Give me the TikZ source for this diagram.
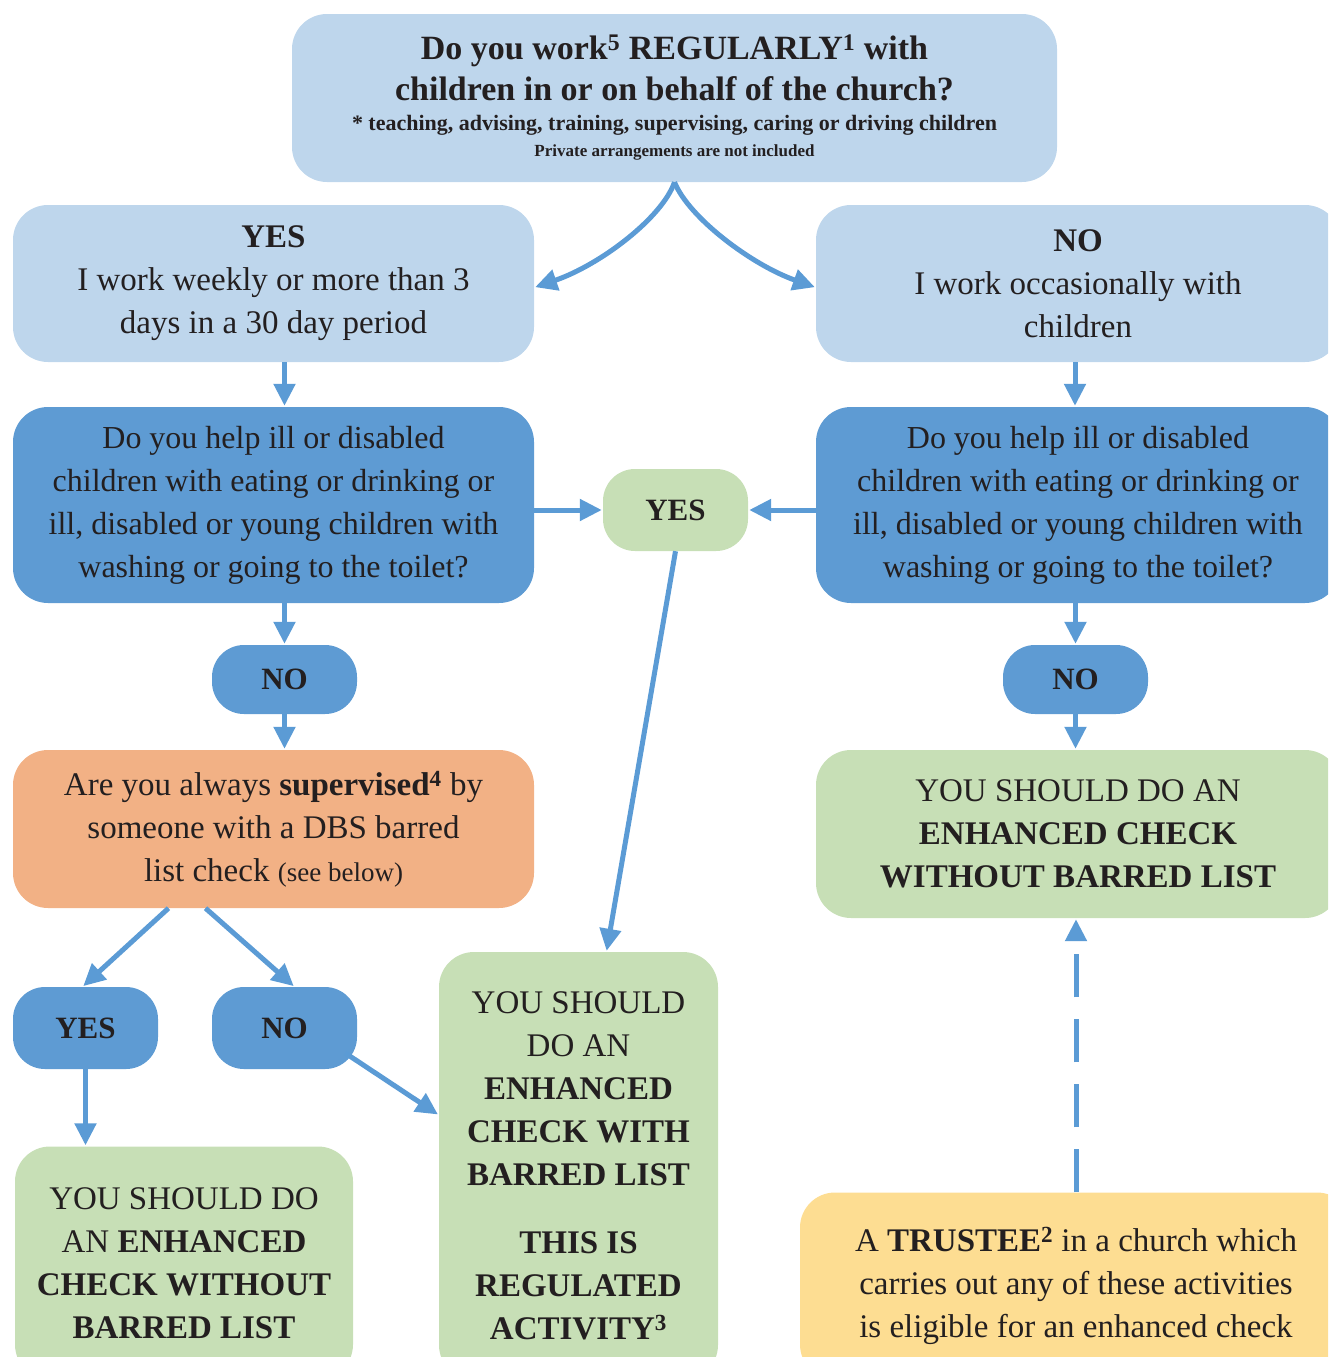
\documentclass[tikz,border=0pt]{standalone}
\usepackage{fontspec}
\setmainfont{Liberation Serif}
\usetikzlibrary{arrows.meta,calc}
\definecolor{paleblue}{HTML}{BED6EC}
\definecolor{midblue}{HTML}{5E9BD3}
\definecolor{linkblue}{HTML}{5B9BD5}
\definecolor{sage}{HTML}{C7DFB6}
\definecolor{peach}{HTML}{F2B185}
\definecolor{butter}{HTML}{FDDD92}
\definecolor{ink}{HTML}{231F20}
\begin{document}
\begin{tikzpicture}[x=1pt,y=-1pt,
  box/.style={rounded corners=35, inner sep=0pt, align=center, text=ink,
    font=\fontsize{33}{43}\selectfont},
  lbox/.style={box, fill=paleblue},
  qbox/.style={box, fill=midblue, font=\fontsize{32}{43}\selectfont},
  endbox/.style={box, fill=sage},
  pill/.style={box, rounded corners=32, minimum width=145, font=\fontsize{31}{40}\selectfont\bfseries},
  link/.style={draw=linkblue, line width=5, -{Triangle[length=22,width=21]}, shorten >=1}]
\useasboundingbox (0,0) rectangle (1328,1357);
\clip (0,0) rectangle (1328,1357);

%% boxes
\node[lbox, minimum width=765, minimum height=168] (top) at (674.5,98)
  {{\fontsize{34}{42}\selectfont\bfseries Do you work\textsuperscript{5} REGULARLY\textsuperscript{1} with}\\[-2pt]
   {\fontsize{34}{42}\selectfont\bfseries children in or on behalf of the church?}\\[-13pt]
   {\fontsize{22}{30}\selectfont\bfseries * teaching, advising, training, supervising, caring or driving children}\\[-17pt]
   {\fontsize{17}{24}\selectfont\bfseries Private arrangements are not included}};
\node[lbox, minimum width=521, minimum height=157] (yesA) at (273.5,283.5)
  {\textbf{YES}\\ I work weekly or more than 3\\ days in a 30 day period};
\node[lbox, minimum width=524, minimum height=157] (noA) at (1078,283.5)
  {\textbf{NO}\\ I work occasionally with\\ children};
\node[qbox, minimum width=521, minimum height=196] (qL) at (273.5,505)
  {Do you help ill or disabled\\ children with eating or drinking or\\ ill, disabled or young children with\\ washing or going to the toilet?};
\node[qbox, minimum width=524, minimum height=196] (qR) at (1078,505)
  {Do you help ill or disabled\\ children with eating or drinking or\\ ill, disabled or young children with\\ washing or going to the toilet?};
\node[pill, fill=sage, minimum height=82] (yesM) at (675.5,510) {YES};
\node[pill, fill=midblue, minimum height=69] (noL) at (284.5,679.5) {NO};
\node[pill, fill=midblue, minimum height=69] (noR) at (1075.5,679.5) {NO};
\node[box, fill=peach, minimum width=521, minimum height=158] (sup) at (273.5,829)
  {Are you always \textbf{supervised}\textsuperscript{\bfseries 4} by\\ someone with a DBS barred\\ list check {\fontsize{27}{43}\selectfont(see below)}};
\node[pill, fill=midblue, minimum height=82] (yesS) at (85.5,1028) {YES};
\node[pill, fill=midblue, minimum height=82] (noS) at (284.5,1028) {NO};
\node[endbox, minimum width=338, minimum height=233] (chkL) at (184,1263)
  {YOU SHOULD DO\\ AN \textbf{ENHANCED}\\ \textbf{CHECK WITHOUT}\\ \textbf{BARRED LIST}};
\node[endbox, minimum width=279, minimum height=428] (chkM) at (578.5,1166)
  {YOU SHOULD\\ DO AN\\ \textbf{ENHANCED}\\ \textbf{CHECK WITH}\\ \textbf{BARRED LIST}\\[25pt]
   \textbf{THIS IS}\\ \textbf{REGULATED}\\ \textbf{ACTIVITY}\textsuperscript{\bfseries 3}};
\node[endbox, minimum width=524, minimum height=168] (chkR) at (1078,834)
  {YOU SHOULD DO AN\\ \textbf{ENHANCED CHECK}\\ \textbf{WITHOUT BARRED LIST}};
\node[box, fill=butter, minimum width=552, minimum height=187] (trustee) at (1076,1286)
  {A \textbf{TRUSTEE}\textsuperscript{\bfseries 2} in a church which\\ carries out any of these activities\\ is eligible for an enhanced check};

%% connectors
\draw[link] (top.south) .. controls (662,218) and (600,265) .. ($(yesA.east)+(0,4)$);
\draw[link] (top.south) .. controls (689,218) and (752,265) .. ($(noA.west)+(0,4)$);
\draw[link] ($(yesA.south)+(11,0)$) -- ($(qL.north)+(11,0)$);
\draw[link] ($(noA.south)+(-3,0)$) -- ($(qR.north)+(-3,0)$);
\draw[link] (qL.east |- yesM) -- (yesM.west);
\draw[link] (qR.west |- yesM) -- (yesM.east);
\draw[link] (qL.south -| noL) -- (noL.north);
\draw[link] (noL.south) -- (noL.south |- sup.north);
\draw[link] (qR.south -| noR) -- (noR.north);
\draw[link] (noR.south) -- (noR.south |- chkR.north);
\draw[link] (yesM.south) -- ($(chkM.north)+(28,0)$);
\draw[link] ($(sup.south)+(-105,0)$) -- ($(yesS.north)+(-3,0)$); %%LeftYes
\draw[link] ($(sup.south)+(-68,0)$) -- ($(noS.north)+(10,0)$); %%LeftNo
\draw[link] (yesS.south) -- (yesS.south |- chkL.north);
\draw[link] ($(noS.east)+(-12,25)$) -- ($(chkM.west)+(0,-51)$);
\draw[link, dash pattern=on 43 off 22] (trustee.north) -- (trustee.north |- chkR.south);
\end{tikzpicture}
\end{document}
